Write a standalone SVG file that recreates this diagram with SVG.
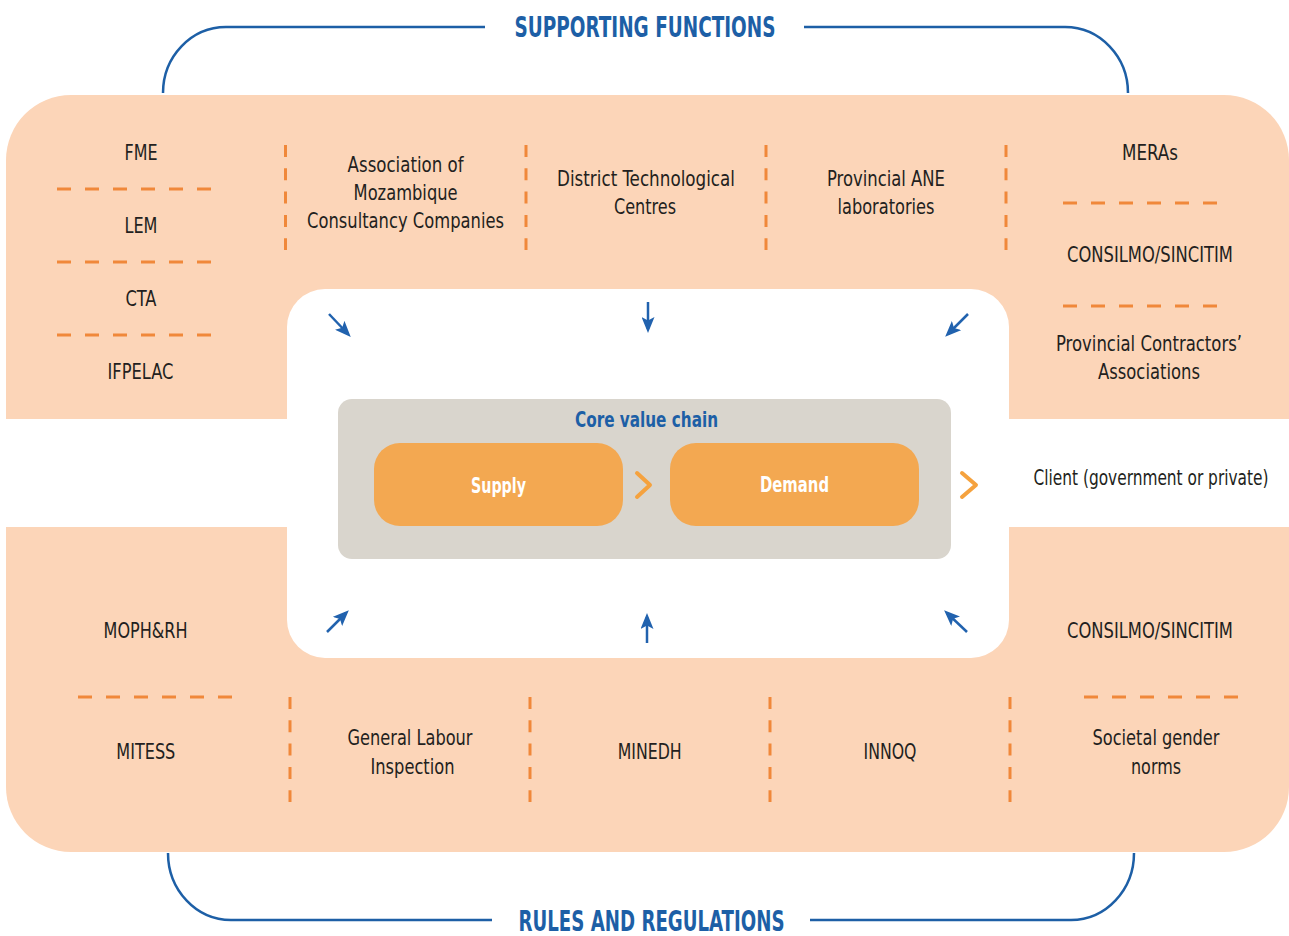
<svg xmlns="http://www.w3.org/2000/svg" width="1289" height="936" viewBox="0 0 1289 936">
<defs>
<style>
text{font-family:"Liberation Sans Narrow","Arial Narrow","DejaVu Sans Condensed","DejaVu Sans",sans-serif;text-anchor:middle}
.t{font-size:22px;fill:#231F20}
.h{font-size:28px;font-weight:bold;fill:#1D5FA6}
.cv{font-size:22px;font-weight:bold;fill:#1D5FA6}
.w{font-size:22px;font-weight:bold;fill:#FFFFFF}
.peach{fill:#FCD5B8}
.dh{stroke:#F0883A;stroke-width:3;stroke-dasharray:14 14;fill:none}
.dv{stroke:#F0883A;stroke-width:3;stroke-dasharray:12 11.3;fill:none}
.br{stroke:#1D5FA6;stroke-width:2.5;fill:none}
.ar{stroke:#2162AE;stroke-width:2.5;fill:none;marker-end:url(#ah)}
.ch{stroke:#F5A23E;stroke-width:4;fill:none;stroke-linecap:round;stroke-linejoin:round}
.box{fill:#F3A851}
</style>
<marker id="ah" markerWidth="16" markerHeight="13" refX="12" refY="6.5" orient="auto" markerUnits="userSpaceOnUse">
<path d="M0,0 L16,6.5 L0,13 L3.5,6.5 Z" fill="#2162AE"/>
</marker>
</defs>

<g id="background">
<path class="peach" d="M6,160 A65,65 0 0 1 71,95 H1224 A65,65 0 0 1 1289,160 V419 H6 Z"/>
<path class="peach" d="M6,527 H1289 V787 A65,65 0 0 1 1224,852 H71 A65,65 0 0 1 6,787 Z"/>
<rect x="287" y="289" width="722" height="369" rx="38" ry="38" fill="#FFFFFF"/>
</g>

<g id="supporting-functions-title">
<text class="h" x="645" y="37" textLength="261" lengthAdjust="spacingAndGlyphs">SUPPORTING FUNCTIONS</text>
</g>
<g id="rules-title">
<text class="h" x="651.5" y="931" textLength="266" lengthAdjust="spacingAndGlyphs">RULES AND REGULATIONS</text>
</g>

<g id="dividers">
<line class="dh" x1="57" y1="189" x2="213" y2="189"/>
<line class="dh" x1="57" y1="262" x2="213" y2="262"/>
<line class="dh" x1="57" y1="335" x2="213" y2="335"/>
<line class="dv" x1="285.5" y1="145" x2="285.5" y2="250"/>
<line class="dv" x1="526" y1="145" x2="526" y2="250"/>
<line class="dv" x1="766" y1="145" x2="766" y2="250"/>
<line class="dv" x1="1006" y1="145" x2="1006" y2="250"/>
<line class="dh" x1="1063" y1="203" x2="1219" y2="203"/>
<line class="dh" x1="1063" y1="306" x2="1219" y2="306"/>
<line class="dh" x1="78" y1="697" x2="234" y2="697"/>
<line class="dh" x1="1084" y1="697" x2="1240" y2="697"/>
<line class="dv" x1="290" y1="697" x2="290" y2="802"/>
<line class="dv" x1="530" y1="697" x2="530" y2="802"/>
<line class="dv" x1="770" y1="697" x2="770" y2="802"/>
<line class="dv" x1="1010" y1="697" x2="1010" y2="802"/>
</g>

<g id="node-fme"><text class="t" x="141" y="160" textLength="33" lengthAdjust="spacingAndGlyphs">FME</text></g>
<g id="node-lem"><text class="t" x="141" y="233" textLength="33" lengthAdjust="spacingAndGlyphs">LEM</text></g>
<g id="node-cta"><text class="t" x="141" y="306" textLength="31" lengthAdjust="spacingAndGlyphs">CTA</text></g>
<g id="node-ifpelac"><text class="t" x="140.5" y="379" textLength="66" lengthAdjust="spacingAndGlyphs">IFPELAC</text></g>
<g id="node-amcc">
<text class="t" x="405.6" y="172" textLength="116" lengthAdjust="spacingAndGlyphs">Association of</text>
<text class="t" x="405.6" y="200" textLength="104" lengthAdjust="spacingAndGlyphs">Mozambique</text>
<text class="t" x="405.5" y="228" textLength="197" lengthAdjust="spacingAndGlyphs">Consultancy Companies</text>
</g>
<g id="node-dtc">
<text class="t" x="646" y="186" textLength="178" lengthAdjust="spacingAndGlyphs">District Technological</text>
<text class="t" x="645" y="214" textLength="62" lengthAdjust="spacingAndGlyphs">Centres</text>
</g>
<g id="node-ane">
<text class="t" x="886" y="186" textLength="118" lengthAdjust="spacingAndGlyphs">Provincial ANE</text>
<text class="t" x="886" y="214" textLength="97" lengthAdjust="spacingAndGlyphs">laboratories</text>
</g>
<g id="node-meras"><text class="t" x="1150" y="160" textLength="56" lengthAdjust="spacingAndGlyphs">MERAs</text></g>
<g id="node-consilmo-top"><text class="t" x="1150" y="262" textLength="166" lengthAdjust="spacingAndGlyphs">CONSILMO/SINCITIM</text></g>
<g id="node-pca">
<text class="t" x="1149" y="351" textLength="186" lengthAdjust="spacingAndGlyphs">Provincial Contractors’</text>
<text class="t" x="1149" y="379" textLength="102" lengthAdjust="spacingAndGlyphs">Associations</text>
</g>

<g id="node-moph"><text class="t" x="145.6" y="638" textLength="84" lengthAdjust="spacingAndGlyphs">MOPH&amp;RH</text></g>
<g id="node-mitess"><text class="t" x="145.8" y="759" textLength="59" lengthAdjust="spacingAndGlyphs">MITESS</text></g>
<g id="node-gli">
<text class="t" x="410" y="745" textLength="125" lengthAdjust="spacingAndGlyphs">General Labour</text>
<text class="t" x="412.5" y="774" textLength="84" lengthAdjust="spacingAndGlyphs">Inspection</text>
</g>
<g id="node-minedh"><text class="t" x="649.7" y="759" textLength="64" lengthAdjust="spacingAndGlyphs">MINEDH</text></g>
<g id="node-innoq"><text class="t" x="890" y="759" textLength="53" lengthAdjust="spacingAndGlyphs">INNOQ</text></g>
<g id="node-consilmo-bottom"><text class="t" x="1150" y="638" textLength="166" lengthAdjust="spacingAndGlyphs">CONSILMO/SINCITIM</text></g>
<g id="node-sgn">
<text class="t" x="1156" y="745" textLength="127" lengthAdjust="spacingAndGlyphs">Societal gender</text>
<text class="t" x="1156" y="774" textLength="50" lengthAdjust="spacingAndGlyphs">norms</text>
</g>

<g id="node-core">
<rect x="338" y="399" width="613" height="160" rx="14" ry="14" fill="#D9D5CD"/>
<text class="cv" x="646.5" y="427" textLength="143" lengthAdjust="spacingAndGlyphs">Core value chain</text>
</g>
<g id="node-supply">
<rect class="box" x="374" y="443" width="249" height="83" rx="26" ry="26"/>
<text class="w" x="498.5" y="493" textLength="55" lengthAdjust="spacingAndGlyphs">Supply</text>
</g>
<g id="node-demand">
<rect class="box" x="670" y="443" width="249" height="83" rx="26" ry="26"/>
<text class="w" x="794.5" y="492" textLength="69" lengthAdjust="spacingAndGlyphs">Demand</text>
</g>
<g id="node-client">
<text class="t" x="1151" y="485" textLength="235" lengthAdjust="spacingAndGlyphs">Client (government or private)</text>
</g>

<g id="connectors">
<path class="br" d="M163,93 A63,66 0 0 1 226,27 H485"/>
<path class="br" d="M804,27 H1065 A63,66 0 0 1 1128,93"/>
<path class="br" d="M168,853 A63,67 0 0 0 231,920 H492"/>
<path class="br" d="M810,920 H1071 A63,67 0 0 0 1134,853"/>
<line class="ar" x1="329" y1="314" x2="348" y2="334"/>
<line class="ar" x1="648" y1="302" x2="648" y2="329"/>
<line class="ar" x1="968" y1="314" x2="948" y2="334"/>
<line class="ar" x1="327" y1="632" x2="346" y2="613"/>
<line class="ar" x1="647" y1="643" x2="647" y2="617"/>
<line class="ar" x1="967" y1="632" x2="947" y2="613"/>
<polyline class="ch" points="637,473 650,485 637,497"/>
<polyline class="ch" points="962,473 976,485 962,497"/>
</g>
</svg>
